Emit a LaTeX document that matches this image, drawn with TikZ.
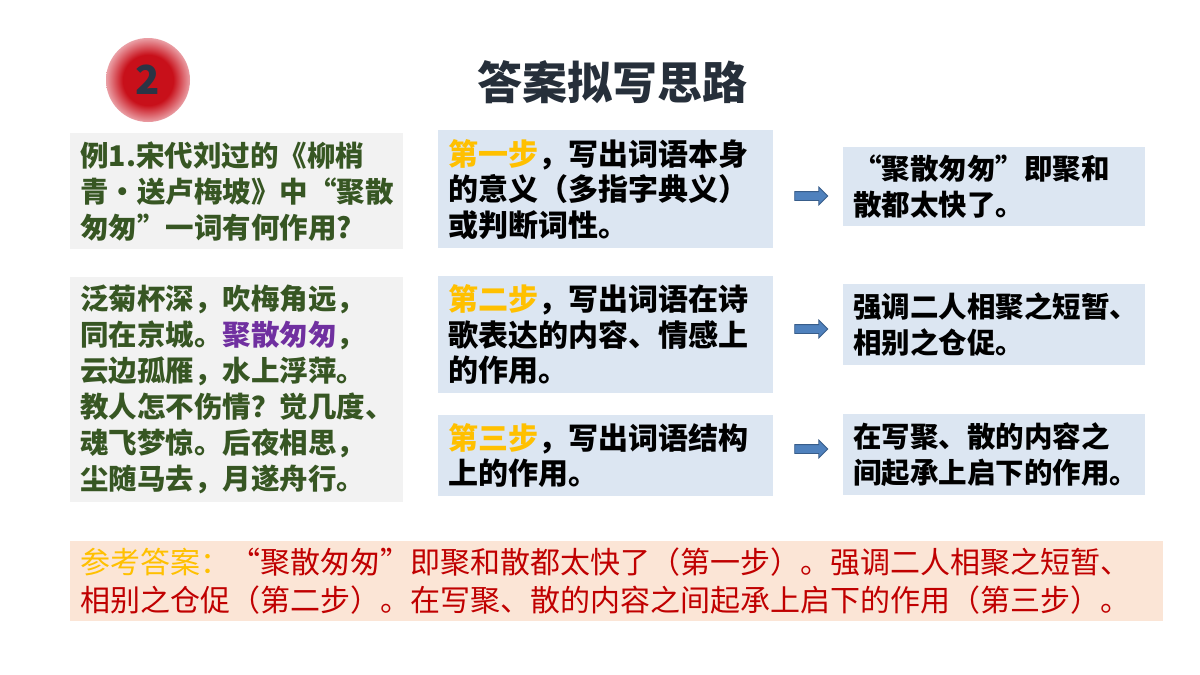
\documentclass[tikz,border=0pt]{standalone}
\usepackage{fontspec}
\setmainfont{Noto Sans CJK SC}
\usetikzlibrary{shapes.arrows}

\definecolor{poemgreen}{HTML}{375623}
\definecolor{poempurple}{HTML}{7030A0}
\definecolor{stepgold}{HTML}{FFC000}
\definecolor{boxgray}{HTML}{F2F2F2}
\definecolor{boxblue}{HTML}{DCE6F2}
\definecolor{answerpeach}{HTML}{FBE5D6}
\definecolor{answerred}{HTML}{C00000}
\definecolor{titleink}{HTML}{262F3A}
\definecolor{badgeink}{HTML}{2B3445}
\definecolor{arrowblue}{HTML}{4F81BD}
\definecolor{arrowedge}{HTML}{385D8A}
\definecolor{ballred}{HTML}{C8101A}
\definecolor{ballpink}{HTML}{EAA0A6}

\pgfdeclareradialshading{redball}{\pgfpoint{0bp}{0bp}}{color(0bp)=(ballred); color(15bp)=(ballred); color(25bp)=(ballpink); color(50bp)=(ballpink)}

\tikzset{
  textbox/.style={anchor=north west, inner xsep=10pt, inner ysep=0pt, align=left,
    font=\bfseries\fontsize{28.5}{36}\selectfont},
  poembox/.style={textbox, fill=boxgray, text=poemgreen, text width=313pt},
  stepbox/.style={textbox, fill=boxblue, text width=315pt,
    font=\bfseries\fontsize{30}{35.5}\selectfont},
  resultbox/.style={textbox, fill=boxblue, text width=282pt},
  answerbox/.style={textbox, fill=answerpeach, text=answerred, text width=1073pt,
    font=\fontsize{30}{38}\selectfont},
  blockarrow/.style={single arrow, fill=arrowblue, draw=arrowedge, line width=0.8pt,
    inner sep=4pt, minimum width=17pt, minimum height=33pt,
    single arrow head extend=4.5pt, single arrow head indent=0pt},
  badge/.style={circle, minimum size=84pt, shading=redball, text=badgeink,
    font=\bfseries\fontsize{40}{40}\selectfont}
}

\begin{document}
\begin{tikzpicture}[x=1pt, y=-1pt]
    \fill[white] (0,0) rectangle (1200,675);
    \useasboundingbox (0,0) rectangle (1200,675);

    \node[badge] (badge) at (148,80) {2};
    \node[font=\bfseries\fontsize{45}{54}\selectfont, text=titleink] (title) at (612,82) {答案拟写思路};

    \node[poembox, minimum height=116pt] (question) at (70,133)
        {例1.宋代刘过的《柳梢\\\mbox{青·送卢梅坡》中“聚散}\\匆匆”一词有何作用?};
    \node[poembox, minimum height=225pt] (poem) at (70,277)
        {泛菊杯深，吹梅角远，\\同在京城。\textcolor{poempurple}{聚散匆匆}，\\云边孤雁，水上浮萍。\\教人怎不伤情？觉几度、\\魂飞梦惊。后夜相思，\\尘随马去，月遂舟行。};

    \node[stepbox, minimum height=118pt] (step1) at (438,130)
        {\textcolor{stepgold}{第一步}，写出词语本身\\的意义（多指字典义）\\或判断词性。};
    \node[stepbox, minimum height=117pt] (step2) at (438,276)
        {\textcolor{stepgold}{第二步}，写出词语在诗\\歌表达的内容、情感上\\的作用。};
    \node[stepbox, minimum height=81pt] (step3) at (438,415)
        {\textcolor{stepgold}{第三步}，写出词语结构\\上的作用。};

    \node[resultbox, minimum height=79pt] (result1) at (843,147)
        {“聚散匆匆”即聚和\\散都太快了。};
    \node[resultbox, minimum height=81pt] (result2) at (843,284)
        {强调二人相聚之短暂、\\相别之仓促。};
    \node[resultbox, minimum height=81pt] (result3) at (843,414)
        {在写聚、散的内容之\\间起承上启下的作用。};

    \node[blockarrow] (arrow1) at (809,196) {};
    \node[blockarrow] (arrow2) at (809,329) {};
    \node[blockarrow] (arrow3) at (809,449) {};

    \node[answerbox, minimum height=80pt] (answer) at (70,541)
        {\textcolor{stepgold}{参考答案：}“聚散匆匆”即聚和散都太快了（第一步）。强调二人相聚之短暂、\\相别之仓促（第二步）。在写聚、散的内容之间起承上启下的作用（第三步）。};
\end{tikzpicture}
\end{document}
